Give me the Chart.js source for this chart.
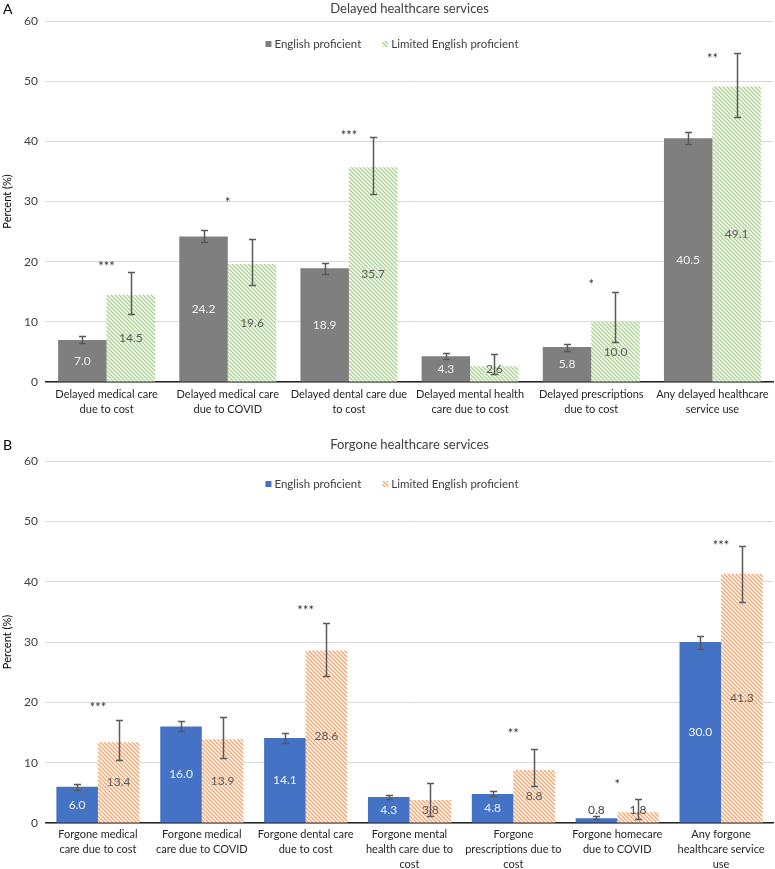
<!DOCTYPE html>
<html>
<head>
<meta charset="utf-8">
<script src="https://cdn.jsdelivr.net/npm/chart.js@4"></script>
<style>
  body { margin: 0; background: #fff; }
  #wrap { position: relative; width: 775px; height: 869px; }
  #chartA { position: absolute; left: 0; top: 0; }
  #chartB { position: absolute; left: 0; top: 430px; }
</style>
</head>
<body>
<div id="wrap">
  <canvas id="chartA" width="775" height="430"></canvas>
  <canvas id="chartB" width="775" height="439"></canvas>
</div>
<script>
// --- Panel A: delayed care ---
const titleA = 'Delayed healthcare services';
const labelsA = [
    ['Delayed medical care', 'due to cost'],
    ['Delayed medical care', 'due to COVID'],
    ['Delayed dental care due', 'to cost'],
    ['Delayed mental health', 'care due to cost'],
    ['Delayed prescriptions', 'due to cost'],
    ['Any delayed healthcare', 'service use']
];
const epA = [7.0, 24.2, 18.9, 4.3, 5.8, 40.5];
const epLoA = [6.4, 23.3, 18.0, 3.8, 5.2, 39.5];
const epHiA = [7.6, 25.2, 19.8, 4.8, 6.3, 41.6];
const lepA = [14.5, 19.6, 35.7, 2.6, 10.0, 49.1];
const lepLoA = [11.3, 16.2, 31.2, 1.4, 6.6, 44.0];
const lepHiA = [18.3, 23.7, 40.7, 4.7, 14.9, 54.7];
const starsA = ['***', '*', '***', '', '*', '**'];
const starAtA = [19.7, 30.2, 41.4, null, 16.6, 54.2];

// --- Panel B: forgone care ---
const titleB = 'Forgone healthcare services';
const labelsB = [
    ['Forgone medical', 'care due to cost'],
    ['Forgone medical', 'care due to COVID'],
    ['Forgone dental care', 'due to cost'],
    ['Forgone mental', 'health care due to', 'cost'],
    ['Forgone', 'prescriptions due to', 'cost'],
    ['Forgone homecare', 'due to COVID'],
    ['Any forgone', 'healthcare service', 'use']
];
const epB = [6.0, 16.0, 14.1, 4.3, 4.8, 0.8, 30.0];
const epLoB = [5.4, 15.2, 13.2, 4.0, 4.4, 0.6, 28.9];
const epHiB = [6.5, 16.9, 15.0, 4.7, 5.3, 1.1, 31.0];
const lepB = [13.4, 13.9, 28.6, 3.8, 8.8, 1.8, 41.3];
const lepLoB = [10.4, 10.8, 24.4, 1.2, 6.1, 0.7, 36.6];
const lepHiB = [17.1, 17.6, 33.1, 6.6, 12.3, 4.0, 45.9];
const starsB = ['***', '', '***', '', '**', '*', '***'];
const starAtB = [19.6, null, 35.6, null, 15.2, 6.9, 46.5];

const yTicks = [0, 10, 20, 30, 40, 50, 60];

const FONT = 'Lato';

function hatch(color) {
    const c = document.createElement('canvas');
    c.width = 4; c.height = 4;
    const g = c.getContext('2d');
    g.fillStyle = '#fff';
    g.fillRect(0, 0, 4, 4);
    g.strokeStyle = color;
    g.lineWidth = 1.3;
    g.beginPath();
    g.moveTo(-1, -1); g.lineTo(5, 5);
    g.moveTo(-1, 3); g.lineTo(1, 5);
    g.moveTo(3, -1); g.lineTo(5, 1);
    g.stroke();
    return g.createPattern(c, 'repeat');
}

// error bars, value labels, stars, title and legend
const extras = {
    id: 'extras',
    afterDatasetsDraw(chart) {
        const ctx = chart.ctx;
        const y = chart.scales.y;
        ctx.save();
        ctx.font = '12px ' + FONT;
        ctx.textAlign = 'center';
        ctx.textBaseline = 'middle';
        chart.data.datasets.forEach((ds, di) => {
            chart.getDatasetMeta(di).data.forEach((bar, i) => {
                let cy = (bar.y + bar.base) / 2;
                const inside = bar.base - bar.y > 14;
                cy = Math.min(cy, bar.base - 12);
                ctx.fillStyle = inside ? ds.labelColor : '#404040';
                ctx.fillText(ds.data[i].toFixed(1), bar.x, cy);
            });
        });
        ctx.strokeStyle = '#595959';
        ctx.lineWidth = 1.5;
        chart.data.datasets.forEach((ds, di) => {
            chart.getDatasetMeta(di).data.forEach((bar, i) => {
                const t = Math.round(y.getPixelForValue(ds.errHi[i])) + 0.5;
                const b = Math.round(y.getPixelForValue(ds.errLo[i])) + 0.5;
                const x = Math.round(bar.x) + 0.5;
                ctx.beginPath();
                ctx.moveTo(x, t); ctx.lineTo(x, b);
                ctx.moveTo(x - 3.5, t); ctx.lineTo(x + 3.5, t);
                ctx.moveTo(x - 3.5, b); ctx.lineTo(x + 3.5, b);
                ctx.stroke();
            });
        });
        ctx.restore();
    },
    afterDraw(chart) {
        const o = chart.options.plugins.extras;
        const ctx = chart.ctx;
        const x = chart.scales.x, y = chart.scales.y;
        const area = chart.chartArea;
        ctx.save();
        ctx.textBaseline = 'middle';
        // significance stars
        ctx.fillStyle = '#333';
        ctx.font = '13px ' + FONT;
        ctx.textAlign = 'center';
        o.stars.forEach((s, i) => {
            if (!s) return;
            ctx.fillText(s, x.getPixelForValue(i), y.getPixelForValue(o.starAt[i]) + 3);
        });
        // panel letter + title
        ctx.fillStyle = '#000';
        ctx.textAlign = 'left';
        ctx.font = '14px ' + FONT;
        ctx.fillText(o.letter, 3, o.titleY);
        ctx.fillStyle = '#404040';
        ctx.font = '13px ' + FONT;
        ctx.textAlign = 'center';
        ctx.fillText(o.title, (area.left + area.right) / 2, o.titleY);
        // legend
        ctx.font = '11.5px ' + FONT;
        ctx.textAlign = 'left';
        const items = chart.data.datasets.map(ds => ({ label: ds.label, fill: ds.backgroundColor, w: ctx.measureText(ds.label).width }));
        const total = items.reduce((s, it) => s + 9 + it.w, 0) + 21 * (items.length - 1);
        let lx = 392 - total / 2;
        const ly = area.top + o.legendOffset;
        items.forEach(it => {
            ctx.fillStyle = it.fill;
            ctx.fillRect(lx, ly - 3, 6, 6);
            ctx.fillStyle = '#404040';
            ctx.fillText(it.label, lx + 9, ly);
            lx += 9 + it.w + 21;
        });
        ctx.restore();
    }
};

function makeChart(id, cfg) {
    return new Chart(document.getElementById(id), {
        type: 'bar',
        data: {
            labels: cfg.labels,
            datasets: [
                {
                    label: 'English proficient',
                    data: cfg.ep, errLo: cfg.epLo, errHi: cfg.epHi,
                    backgroundColor: cfg.epColor,
                    labelColor: '#f2f2f2',
                    categoryPercentage: 0.8, barPercentage: 1.0
                },
                {
                    label: 'Limited English proficient',
                    data: cfg.lep, errLo: cfg.lepLo, errHi: cfg.lepHi,
                    backgroundColor: hatch(cfg.lepColor),
                    labelColor: '#595959',
                    categoryPercentage: 0.8, barPercentage: 1.0
                }
            ]
        },
        options: {
            responsive: false,
            animation: false,
            layout: { padding: { top: cfg.padTop, right: 2, left: 0, bottom: 0 } },
            plugins: {
                legend: { display: false },
                tooltip: { enabled: false },
                extras: {
                    stars: cfg.stars, starAt: cfg.starAt,
                    title: cfg.title, letter: cfg.letter,
                    titleY: cfg.titleY, legendOffset: 23
                }
            },
            scales: {
                x: {
                    grid: { display: false, drawTicks: false },
                    border: { display: true, color: '#262626', width: 1.5 },
                    ticks: {
                        color: '#262626', padding: cfg.xPad, maxRotation: 0, autoSkip: false,
                        font: { family: FONT, size: 11, lineHeight: 1.36 }
                    },
                    afterFit: s => { s.height = cfg.xHeight; }
                },
                y: {
                    min: 0, max: 60,
                    afterBuildTicks: s => { s.ticks = yTicks.map(v => ({ value: v })); },
                    grid: { color: '#d9d9d9', drawTicks: false },
                    border: { display: false },
                    ticks: { color: '#404040', padding: 8, font: { family: FONT, size: 12 } },
                    title: {
                        display: true, text: 'Percent (%)', color: '#000',
                        font: { family: FONT, size: 11 }, padding: { top: 1, bottom: 0 }
                    },
                    afterFit: s => { s.width = 46; }
                }
            }
        },
        plugins: [extras]
    });
}

makeChart('chartA', {
    labels: labelsA, ep: epA, epLo: epLoA, epHi: epHiA,
    lep: lepA, lepLo: lepLoA, lepHi: lepHiA,
    stars: starsA, starAt: starAtA,
    epColor: '#7f7f7f', lepColor: '#a9d18e',
    title: titleA, letter: 'A', titleY: 9,
    padTop: 21, xHeight: 48, xPad: 5
});

makeChart('chartB', {
    labels: labelsB, ep: epB, epLo: epLoB, epHi: epHiB,
    lep: lepB, lepLo: lepLoB, lepHi: lepHiB,
    stars: starsB, starAt: starAtB,
    epColor: '#4472c4', lepColor: '#f4a26a',
    title: titleB, letter: 'B', titleY: 15,
    padTop: 31, xHeight: 46, xPad: 4
});
</script>
</body>
</html>
